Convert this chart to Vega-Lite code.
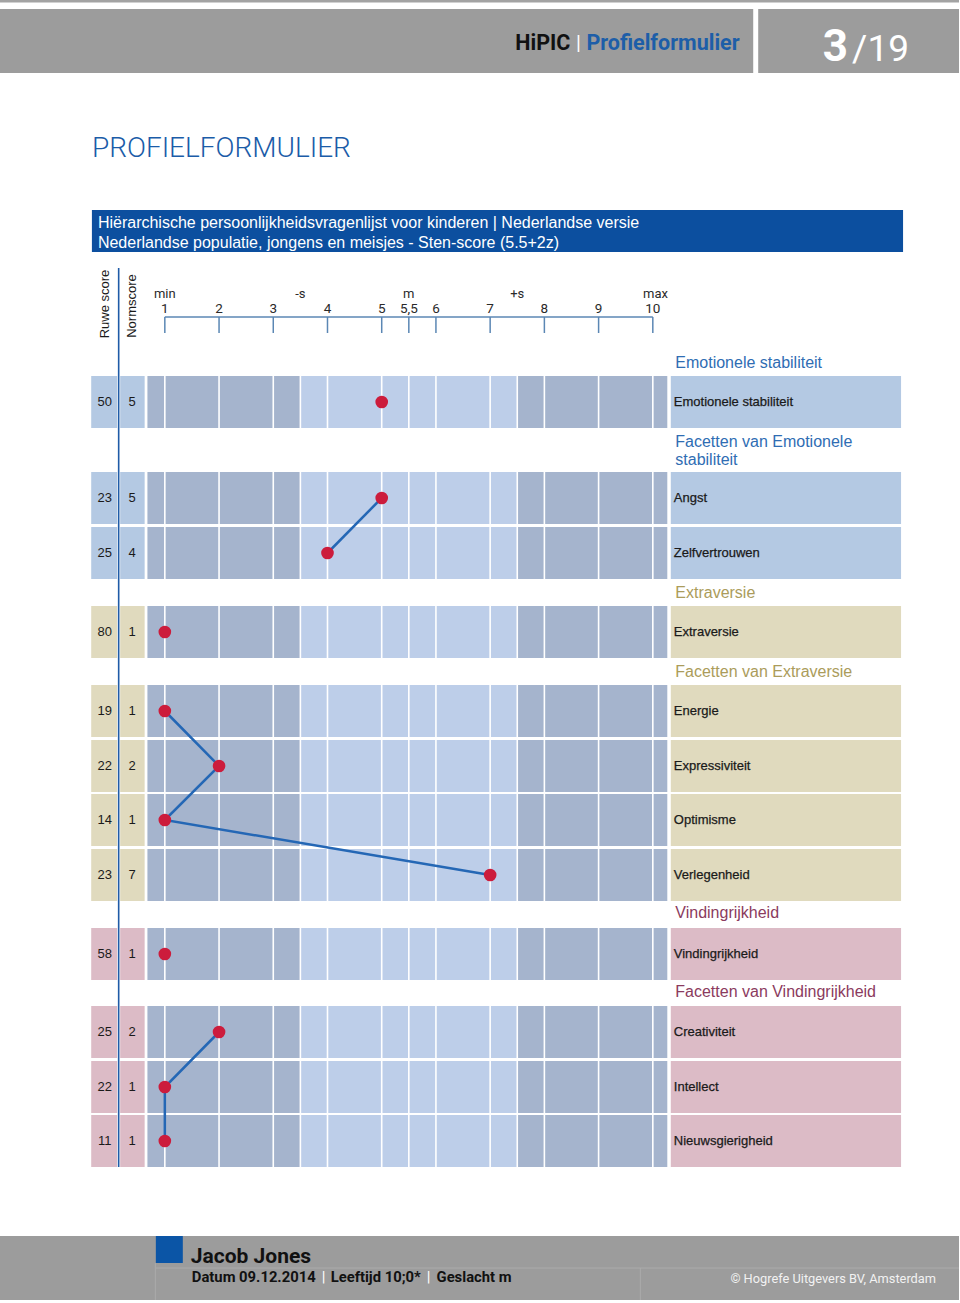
{
"$schema": "https://vega.github.io/schema/vega-lite/v6.json",
"width": 960, "height": 1303,
"autosize": {"type": "fit", "contains": "padding"},
"padding": 0,
"background": "#ffffff",
"config": {"view": {"stroke": null}, "scale": {"continuousPadding": 0}},
"resolve": {"scale": {"x": "independent", "color": "independent"}},
"datasets": {
  "boxes": [
    {"part": "top", "x0": 0, "x1": 960, "y0": 0, "y1": 2.5},
    {"part": "head", "x0": 0, "x1": 754, "y0": 9, "y1": 73},
    {"part": "head", "x0": 759, "x1": 960, "y0": 9, "y1": 73},
    {"part": "band", "x0": 92, "x1": 904, "y0": 210, "y1": 252},
    {"part": "foot", "x0": 0, "x1": 960, "y0": 1236, "y1": 1300},
    {"part": "square", "x0": 156, "x1": 183, "y0": 1236, "y1": 1263}
  ],
  "footlines": [
    {"x0": 156, "x1": 960, "y0": 1268, "y1": 1268},
    {"x0": 155.5, "x1": 155.5, "y0": 1263, "y1": 1300},
    {"x0": 641, "x1": 641, "y0": 1268, "y1": 1300}
  ],
  "profile": [
    {"scale": "Emotionele stabiliteit", "section": "E", "raw": 50, "norm": 5, "y": 402, "group": null},
    {"scale": "Angst", "section": "E", "raw": 23, "norm": 5, "y": 498, "group": "ef"},
    {"scale": "Zelfvertrouwen", "section": "E", "raw": 25, "norm": 4, "y": 553, "group": "ef"},
    {"scale": "Extraversie", "section": "X", "raw": 80, "norm": 1, "y": 632, "group": null},
    {"scale": "Energie", "section": "X", "raw": 19, "norm": 1, "y": 711, "group": "xf"},
    {"scale": "Expressiviteit", "section": "X", "raw": 22, "norm": 2, "y": 766, "group": "xf"},
    {"scale": "Optimisme", "section": "X", "raw": 14, "norm": 1, "y": 820, "group": "xf"},
    {"scale": "Verlegenheid", "section": "X", "raw": 23, "norm": 7, "y": 875, "group": "xf"},
    {"scale": "Vindingrijkheid", "section": "V", "raw": 58, "norm": 1, "y": 954, "group": null},
    {"scale": "Creativiteit", "section": "V", "raw": 25, "norm": 2, "y": 1032, "group": "vf"},
    {"scale": "Intellect", "section": "V", "raw": 22, "norm": 1, "y": 1087, "group": "vf"},
    {"scale": "Nieuwsgierigheid", "section": "V", "raw": 11, "norm": 1, "y": 1141, "group": "vf"}
  ],
  "heads": [
    {"t": "Emotionele stabiliteit", "section": "E", "y": 368},
    {"t": "Facetten van Emotionele", "section": "E", "y": 447},
    {"t": "stabiliteit", "section": "E", "y": 465},
    {"t": "Extraversie", "section": "X", "y": 598},
    {"t": "Facetten van Extraversie", "section": "X", "y": 677},
    {"t": "Vindingrijkheid", "section": "V", "y": 918},
    {"t": "Facetten van Vindingrijkheid", "section": "V", "y": 997}
  ],
  "seps": [{"s": 1}, {"s": 2}, {"s": 3}, {"s": 3.5}, {"s": 4}, {"s": 5}, {"s": 5.5}, {"s": 6}, {"s": 7}, {"s": 7.5}, {"s": 8}, {"s": 9}, {"s": 10}],
  "ticks": [
    {"s": 1, "lab": "1"}, {"s": 2, "lab": "2"}, {"s": 3, "lab": "3"}, {"s": 4, "lab": "4"},
    {"s": 5, "lab": "5"}, {"s": 5.5, "lab": "5,5"}, {"s": 6, "lab": "6"}, {"s": 7, "lab": "7"},
    {"s": 8, "lab": "8"}, {"s": 9, "lab": "9"}, {"s": 10, "lab": "10"}
  ],
  "marks": [
    {"s": 1, "lab": "min"}, {"s": 3.5, "lab": "-s"}, {"s": 5.5, "lab": "m"}, {"s": 7.5, "lab": "+s"}, {"s": 10.05, "lab": "max"}
  ]
},
"layer": [
  {"data": {"name": "boxes"}, "mark": {"type": "rect"},
   "encoding": {
     "x": {"field": "x0", "type": "quantitative", "scale": {"domain": [0, 960], "nice": false, "zero": false}, "axis": null},
     "x2": {"field": "x1"},
     "y": {"field": "y0", "type": "quantitative", "scale": {"domain": [0, 1303], "reverse": true, "nice": false, "zero": false}, "axis": null},
     "y2": {"field": "y1"},
     "color": {"field": "part", "type": "nominal", "scale": {"domain": ["top", "head", "band", "foot", "square"], "range": ["#a3a3a3", "#9c9c9c", "#0c4f9f", "#9c9c9c", "#0b55a6"]}, "legend": null}
   }},
  {"data": {"name": "footlines"}, "mark": {"type": "rule", "color": "#ababab", "strokeWidth": 1},
   "encoding": {
     "x": {"field": "x0", "type": "quantitative", "scale": {"domain": [0, 960], "nice": false, "zero": false}, "axis": null},
     "x2": {"field": "x1"},
     "y": {"field": "y0", "type": "quantitative", "scale": {"domain": [0, 1303], "reverse": true, "nice": false, "zero": false}, "axis": null},
     "y2": {"field": "y1"}
   }},
  {"data": {"name": "profile"}, "mark": {"type": "bar", "size": 52},
   "encoding": {
     "x": {"datum": 91.3, "type": "quantitative", "scale": {"domain": [0, 960], "nice": false, "zero": false}, "axis": null},
     "x2": {"datum": 117.3},
     "y": {"field": "y", "type": "quantitative", "scale": {"domain": [0, 1303], "reverse": true, "nice": false, "zero": false}, "axis": null},
     "color": {"field": "section", "type": "nominal", "scale": {"domain": ["E", "X", "V"], "range": ["#b4c9e3", "#e0dabe", "#dcbbc6"]}, "legend": null}
   }},
  {"data": {"name": "profile"}, "mark": {"type": "bar", "size": 52},
   "encoding": {
     "x": {"datum": 120.3, "type": "quantitative", "scale": {"domain": [0, 960], "nice": false, "zero": false}, "axis": null},
     "x2": {"datum": 144.8},
     "y": {"field": "y", "type": "quantitative", "scale": {"domain": [0, 1303], "reverse": true, "nice": false, "zero": false}, "axis": null},
     "color": {"field": "section", "type": "nominal", "scale": {"domain": ["E", "X", "V"], "range": ["#b4c9e3", "#e0dabe", "#dcbbc6"]}, "legend": null}
   }},
  {"data": {"name": "profile"}, "mark": {"type": "bar", "size": 52},
   "encoding": {
     "x": {"datum": 671.5, "type": "quantitative", "scale": {"domain": [0, 960], "nice": false, "zero": false}, "axis": null},
     "x2": {"datum": 902},
     "y": {"field": "y", "type": "quantitative", "scale": {"domain": [0, 1303], "reverse": true, "nice": false, "zero": false}, "axis": null},
     "color": {"field": "section", "type": "nominal", "scale": {"domain": ["E", "X", "V"], "range": ["#b4c9e3", "#e0dabe", "#dcbbc6"]}, "legend": null}
   }},
  {"data": {"name": "profile"}, "mark": {"type": "bar", "size": 52, "color": "#a5b4cd"},
   "encoding": {
     "x": {"datum": 0.679, "type": "quantitative", "scale": {"domain": [-2.04, 15.647], "nice": false, "zero": false}, "axis": null},
     "x2": {"datum": 10.267},
     "y": {"field": "y", "type": "quantitative", "scale": {"domain": [0, 1303], "reverse": true, "nice": false, "zero": false}, "axis": null}
   }},
  {"data": {"name": "profile"}, "mark": {"type": "bar", "size": 52, "color": "#bdcee9"},
   "encoding": {
     "x": {"datum": 3.5, "type": "quantitative", "scale": {"domain": [-2.04, 15.647], "nice": false, "zero": false}, "axis": null},
     "x2": {"datum": 7.5},
     "y": {"field": "y", "type": "quantitative", "scale": {"domain": [0, 1303], "reverse": true, "nice": false, "zero": false}, "axis": null}
   }},
  {"data": {"name": "seps"}, "mark": {"type": "rule", "color": "#ffffff", "strokeWidth": 1.6},
   "encoding": {
     "x": {"field": "s", "type": "quantitative", "scale": {"domain": [-2.04, 15.647], "nice": false, "zero": false}, "axis": null},
     "y": {"datum": 372, "type": "quantitative", "scale": {"domain": [0, 1303], "reverse": true, "nice": false, "zero": false}, "axis": null},
     "y2": {"datum": 1170}
   }},
  {"data": {"values": [{"part": "axisline"}]}, "mark": {"type": "rule", "color": "#5b87b4", "strokeWidth": 1.5},
   "encoding": {
     "x": {"datum": 1, "type": "quantitative", "scale": {"domain": [-2.04, 15.647], "nice": false, "zero": false}, "axis": null},
     "x2": {"datum": 10},
     "y": {"datum": 317, "type": "quantitative", "scale": {"domain": [0, 1303], "reverse": true, "nice": false, "zero": false}, "axis": null}
   }},
  {"data": {"name": "ticks"}, "mark": {"type": "rule", "color": "#5b87b4", "strokeWidth": 1.5},
   "encoding": {
     "x": {"field": "s", "type": "quantitative", "scale": {"domain": [-2.04, 15.647], "nice": false, "zero": false}, "axis": null},
     "y": {"datum": 317, "type": "quantitative", "scale": {"domain": [0, 1303], "reverse": true, "nice": false, "zero": false}, "axis": null},
     "y2": {"datum": 333}
   }},
  {"data": {"name": "ticks"}, "mark": {"type": "text", "align": "center", "baseline": "alphabetic", "fontSize": 13.5, "color": "#2a2a2a", "font": "Roboto, Liberation Sans, sans-serif"},
   "encoding": {
     "x": {"field": "s", "type": "quantitative", "scale": {"domain": [-2.04, 15.647], "nice": false, "zero": false}, "axis": null},
     "y": {"datum": 313, "type": "quantitative", "scale": {"domain": [0, 1303], "reverse": true, "nice": false, "zero": false}, "axis": null},
     "text": {"field": "lab"}
   }},
  {"data": {"name": "marks"}, "mark": {"type": "text", "align": "center", "baseline": "alphabetic", "fontSize": 13, "color": "#2a2a2a", "font": "Roboto, Liberation Sans, sans-serif"},
   "encoding": {
     "x": {"field": "s", "type": "quantitative", "scale": {"domain": [-2.04, 15.647], "nice": false, "zero": false}, "axis": null},
     "y": {"datum": 298, "type": "quantitative", "scale": {"domain": [0, 1303], "reverse": true, "nice": false, "zero": false}, "axis": null},
     "text": {"field": "lab"}
   }},
  {"data": {"values": [{"part": "divider"}]}, "mark": {"type": "rule", "color": "#1f5ba7", "strokeWidth": 1.6},
   "encoding": {
     "x": {"datum": 118.8, "type": "quantitative", "scale": {"domain": [0, 960], "nice": false, "zero": false}, "axis": null},
     "y": {"datum": 268, "type": "quantitative", "scale": {"domain": [0, 1303], "reverse": true, "nice": false, "zero": false}, "axis": null},
     "y2": {"datum": 1167}
   }},
  {"data": {"name": "profile"}, "transform": [{"filter": "datum.group != null"}],
   "mark": {"type": "line", "color": "#2467b5", "strokeWidth": 2.5},
   "encoding": {
     "x": {"field": "norm", "type": "quantitative", "scale": {"domain": [-2.04, 15.647], "nice": false, "zero": false}, "axis": null},
     "y": {"field": "y", "type": "quantitative", "scale": {"domain": [0, 1303], "reverse": true, "nice": false, "zero": false}, "axis": null},
     "detail": {"field": "group", "type": "nominal"},
     "order": {"field": "y", "type": "quantitative"}
   }},
  {"data": {"name": "profile"}, "mark": {"type": "circle", "size": 160, "opacity": 1, "color": "#cc1c3c"},
   "encoding": {
     "x": {"field": "norm", "type": "quantitative", "scale": {"domain": [-2.04, 15.647], "nice": false, "zero": false}, "axis": null},
     "y": {"field": "y", "type": "quantitative", "scale": {"domain": [0, 1303], "reverse": true, "nice": false, "zero": false}, "axis": null}
   }},
  {"data": {"name": "profile"}, "mark": {"type": "text", "align": "center", "baseline": "middle", "fontSize": 13, "color": "#1a1a1a", "font": "Liberation Sans, Arial, sans-serif"},
   "encoding": {
     "x": {"datum": 104.8, "type": "quantitative", "scale": {"domain": [0, 960], "nice": false, "zero": false}, "axis": null},
     "y": {"field": "y", "type": "quantitative", "scale": {"domain": [0, 1303], "reverse": true, "nice": false, "zero": false}, "axis": null},
     "text": {"field": "raw"}
   }},
  {"data": {"name": "profile"}, "mark": {"type": "text", "align": "center", "baseline": "middle", "fontSize": 13, "color": "#1a1a1a", "font": "Liberation Sans, Arial, sans-serif"},
   "encoding": {
     "x": {"datum": 132.3, "type": "quantitative", "scale": {"domain": [0, 960], "nice": false, "zero": false}, "axis": null},
     "y": {"field": "y", "type": "quantitative", "scale": {"domain": [0, 1303], "reverse": true, "nice": false, "zero": false}, "axis": null},
     "text": {"field": "norm"}
   }},
  {"data": {"name": "profile"}, "mark": {"type": "text", "align": "left", "baseline": "middle", "fontSize": 13, "color": "#1a1a1a", "stroke": "#1a1a1a", "strokeWidth": 0.25, "font": "Liberation Sans, Arial, sans-serif"},
   "encoding": {
     "x": {"datum": 674.5, "type": "quantitative", "scale": {"domain": [0, 960], "nice": false, "zero": false}, "axis": null},
     "y": {"field": "y", "type": "quantitative", "scale": {"domain": [0, 1303], "reverse": true, "nice": false, "zero": false}, "axis": null},
     "text": {"field": "scale"}
   }},
  {"data": {"name": "heads"}, "mark": {"type": "text", "align": "left", "baseline": "alphabetic", "fontSize": 16, "font": "Liberation Sans, Arial, sans-serif"},
   "encoding": {
     "x": {"datum": 676, "type": "quantitative", "scale": {"domain": [0, 960], "nice": false, "zero": false}, "axis": null},
     "y": {"field": "y", "type": "quantitative", "scale": {"domain": [0, 1303], "reverse": true, "nice": false, "zero": false}, "axis": null},
     "text": {"field": "t"},
     "color": {"field": "section", "type": "nominal", "scale": {"domain": ["E", "X", "V"], "range": ["#2f6db3", "#ab9c5b", "#8b3b5e"]}, "legend": null}
   }},
  {"data": {"values": [{"t": "Ruwe score", "x": 105, "y": 304}, {"t": "Normscore", "x": 132.5, "y": 306}]},
   "mark": {"type": "text", "angle": 270, "align": "center", "baseline": "middle", "fontSize": 13, "color": "#1a1a1a", "font": "Liberation Sans, Arial, sans-serif"},
   "encoding": {
     "x": {"field": "x", "type": "quantitative", "scale": {"domain": [0, 960], "nice": false, "zero": false}, "axis": null},
     "y": {"field": "y", "type": "quantitative", "scale": {"domain": [0, 1303], "reverse": true, "nice": false, "zero": false}, "axis": null},
     "text": {"field": "t"}
   }},
  {"data": {"values": [{"t": "HiPIC", "x": 571, "y": 50}]},
   "mark": {"type": "text", "align": "right", "baseline": "alphabetic", "fontSize": 21.5, "fontWeight": "bold", "color": "#111111", "font": "Roboto, Liberation Sans, sans-serif"},
   "encoding": {
     "x": {"field": "x", "type": "quantitative", "scale": {"domain": [0, 960], "nice": false, "zero": false}, "axis": null},
     "y": {"field": "y", "type": "quantitative", "scale": {"domain": [0, 1303], "reverse": true, "nice": false, "zero": false}, "axis": null},
     "text": {"field": "t"}
   }},
  {"data": {"values": [{"t": "|", "x": 579, "y": 50}]},
   "mark": {"type": "text", "align": "center", "baseline": "alphabetic", "fontSize": 20, "color": "#ffffff", "font": "Roboto, Liberation Sans, sans-serif"},
   "encoding": {
     "x": {"field": "x", "type": "quantitative", "scale": {"domain": [0, 960], "nice": false, "zero": false}, "axis": null},
     "y": {"field": "y", "type": "quantitative", "scale": {"domain": [0, 1303], "reverse": true, "nice": false, "zero": false}, "axis": null},
     "text": {"field": "t"}
   }},
  {"data": {"values": [{"t": "Profielformulier", "x": 587, "y": 50}]},
   "mark": {"type": "text", "align": "left", "baseline": "alphabetic", "fontSize": 21.5, "fontWeight": "bold", "color": "#1d5ea8", "font": "Roboto, Liberation Sans, sans-serif"},
   "encoding": {
     "x": {"field": "x", "type": "quantitative", "scale": {"domain": [0, 960], "nice": false, "zero": false}, "axis": null},
     "y": {"field": "y", "type": "quantitative", "scale": {"domain": [0, 1303], "reverse": true, "nice": false, "zero": false}, "axis": null},
     "text": {"field": "t"}
   }},
  {"data": {"values": [{"t": "3", "x": 849, "y": 61}]},
   "mark": {"type": "text", "align": "right", "baseline": "alphabetic", "fontSize": 44, "fontWeight": "bold", "color": "#ffffff", "font": "Roboto, Liberation Sans, sans-serif"},
   "encoding": {
     "x": {"field": "x", "type": "quantitative", "scale": {"domain": [0, 960], "nice": false, "zero": false}, "axis": null},
     "y": {"field": "y", "type": "quantitative", "scale": {"domain": [0, 1303], "reverse": true, "nice": false, "zero": false}, "axis": null},
     "text": {"field": "t"}
   }},
  {"data": {"values": [{"t": "/19", "x": 853, "y": 61}]},
   "mark": {"type": "text", "align": "left", "baseline": "alphabetic", "fontSize": 37, "color": "#ffffff", "font": "Roboto, Liberation Sans, sans-serif"},
   "encoding": {
     "x": {"field": "x", "type": "quantitative", "scale": {"domain": [0, 960], "nice": false, "zero": false}, "axis": null},
     "y": {"field": "y", "type": "quantitative", "scale": {"domain": [0, 1303], "reverse": true, "nice": false, "zero": false}, "axis": null},
     "text": {"field": "t"}
   }},
  {"data": {"values": [{"t": "PROFIELFORMULIER", "x": 92, "y": 157}]},
   "mark": {"type": "text", "align": "left", "baseline": "alphabetic", "fontSize": 28, "fontWeight": 300, "color": "#1b5ca8", "font": "Roboto, Liberation Sans, sans-serif"},
   "encoding": {
     "x": {"field": "x", "type": "quantitative", "scale": {"domain": [0, 960], "nice": false, "zero": false}, "axis": null},
     "y": {"field": "y", "type": "quantitative", "scale": {"domain": [0, 1303], "reverse": true, "nice": false, "zero": false}, "axis": null},
     "text": {"field": "t"}
   }},
  {"data": {"values": [{"t": "Hiërarchische persoonlijkheidsvragenlijst voor kinderen | Nederlandse versie", "x": 98, "y": 228}, {"t": "Nederlandse populatie, jongens en meisjes - Sten-score (5.5+2z)", "x": 98, "y": 248}]},
   "mark": {"type": "text", "align": "left", "baseline": "alphabetic", "fontSize": 16, "color": "#ffffff", "font": "Liberation Sans, Arial, sans-serif"},
   "encoding": {
     "x": {"field": "x", "type": "quantitative", "scale": {"domain": [0, 960], "nice": false, "zero": false}, "axis": null},
     "y": {"field": "y", "type": "quantitative", "scale": {"domain": [0, 1303], "reverse": true, "nice": false, "zero": false}, "axis": null},
     "text": {"field": "t"}
   }},
  {"data": {"values": [{"t": "Jacob Jones", "x": 191, "y": 1263}]},
   "mark": {"type": "text", "align": "left", "baseline": "alphabetic", "fontSize": 21, "fontWeight": "bold", "color": "#111111", "font": "Roboto, Liberation Sans, sans-serif"},
   "encoding": {
     "x": {"field": "x", "type": "quantitative", "scale": {"domain": [0, 960], "nice": false, "zero": false}, "axis": null},
     "y": {"field": "y", "type": "quantitative", "scale": {"domain": [0, 1303], "reverse": true, "nice": false, "zero": false}, "axis": null},
     "text": {"field": "t"}
   }},
  {"data": {"values": [{"t": "Datum 09.12.2014", "x": 192, "y": 1282}, {"t": "Leeftijd 10;0*", "x": 331, "y": 1282}, {"t": "Geslacht m", "x": 437, "y": 1282}]},
   "mark": {"type": "text", "align": "left", "baseline": "alphabetic", "fontSize": 14.8, "fontWeight": "bold", "color": "#111111", "font": "Roboto, Liberation Sans, sans-serif"},
   "encoding": {
     "x": {"field": "x", "type": "quantitative", "scale": {"domain": [0, 960], "nice": false, "zero": false}, "axis": null},
     "y": {"field": "y", "type": "quantitative", "scale": {"domain": [0, 1303], "reverse": true, "nice": false, "zero": false}, "axis": null},
     "text": {"field": "t"}
   }},
  {"data": {"values": [{"t": "|", "x": 324, "y": 1282}, {"t": "|", "x": 429, "y": 1282}]},
   "mark": {"type": "text", "align": "center", "baseline": "alphabetic", "fontSize": 15, "color": "#ffffff", "font": "Roboto, Liberation Sans, sans-serif"},
   "encoding": {
     "x": {"field": "x", "type": "quantitative", "scale": {"domain": [0, 960], "nice": false, "zero": false}, "axis": null},
     "y": {"field": "y", "type": "quantitative", "scale": {"domain": [0, 1303], "reverse": true, "nice": false, "zero": false}, "axis": null},
     "text": {"field": "t"}
   }},
  {"data": {"values": [{"t": "© Hogrefe Uitgevers BV, Amsterdam", "x": 937, "y": 1283}]},
   "mark": {"type": "text", "align": "right", "baseline": "alphabetic", "fontSize": 12.8, "color": "#f2f2f2", "font": "Roboto, Liberation Sans, sans-serif"},
   "encoding": {
     "x": {"field": "x", "type": "quantitative", "scale": {"domain": [0, 960], "nice": false, "zero": false}, "axis": null},
     "y": {"field": "y", "type": "quantitative", "scale": {"domain": [0, 1303], "reverse": true, "nice": false, "zero": false}, "axis": null},
     "text": {"field": "t"}
   }}
]
}
